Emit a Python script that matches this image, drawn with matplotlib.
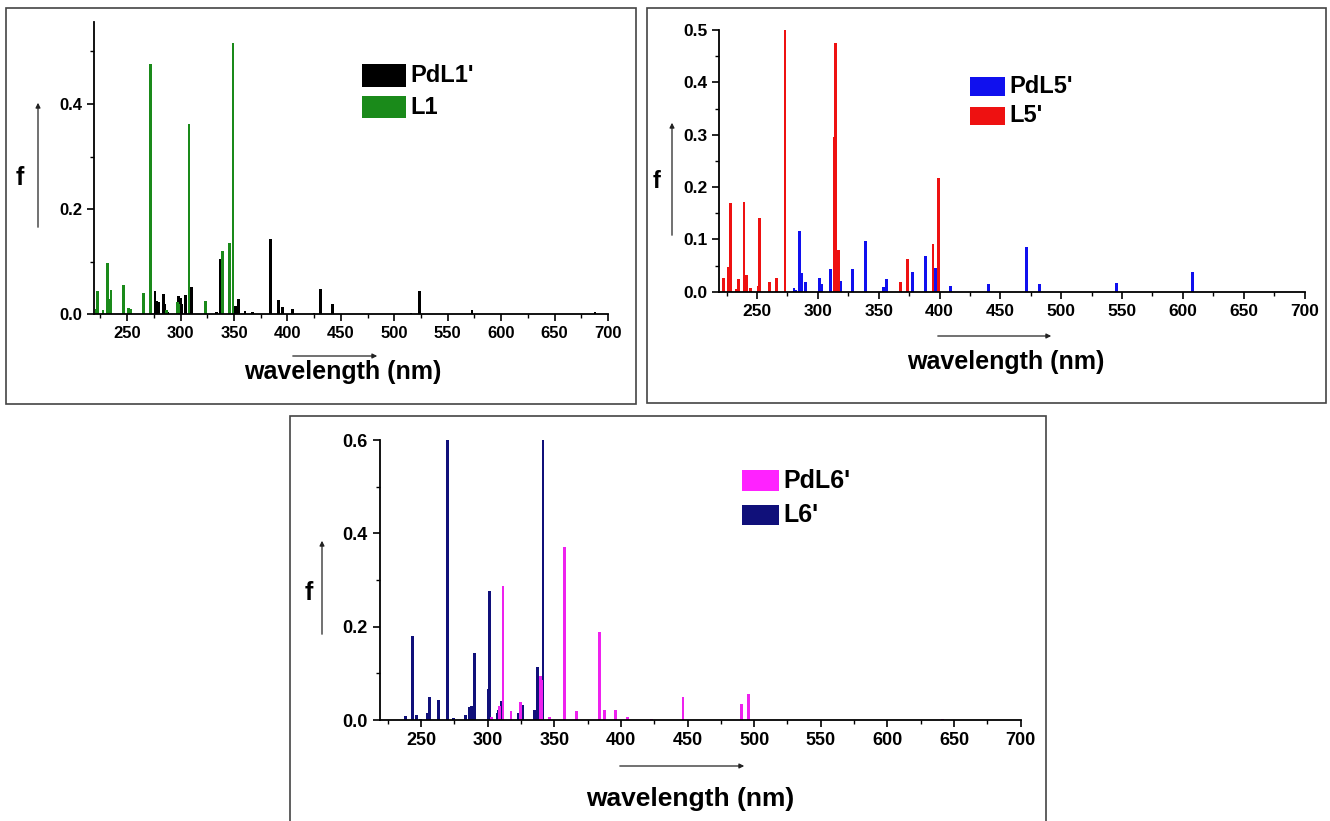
import matplotlib
matplotlib.use("Agg")
import matplotlib.pyplot as plt
from matplotlib.patches import Rectangle, FancyArrowPatch
from matplotlib.ticker import MultipleLocator

plt.rcParams['font.family'] = ['Liberation Sans', 'DejaVu Sans']
plt.rcParams['font.weight'] = 'bold'

# Panel 1: PdL1' and L1 (wavelength nm, oscillator strength f)
pdl1_wl = [276, 277.6, 279, 283.8, 285.3, 288, 298, 299.7, 301, 304.7, 310.3,
           333.7, 337.7, 351.5, 354, 360.3, 367.5, 383.9, 391.4, 395.2, 404.6,
           424.9, 431.1, 442, 515.6, 523.4, 572.8, 687.9]
pdl1_f = [0.044, 0.025, 0.024, 0.038, 0.02, 0.004, 0.034, 0.031, 0.02, 0.0375, 0.0525,
          0.005, 0.105, 0.015, 0.03, 0.007, 0.004, 0.144, 0.027, 0.014, 0.01,
          0.003, 0.048, 0.019, 0.002, 0.044, 0.0075, 0.0045]
l1_wl = [221, 222.5, 227.5, 231.3, 233, 235, 246.9, 251, 253, 265, 272.2, 286.6,
         296.8, 298.6, 308, 323.4, 339.6, 345.5, 349]
l1_f = [0.011, 0.044, 0.009, 0.0975, 0.03, 0.046, 0.056, 0.0125, 0.01, 0.041, 0.477, 0.009,
        0.024, 0.02, 0.362, 0.025, 0.121, 0.136, 0.517]

# Panel 2: PdL5' and L5'
pdl5_wl = [280.4, 282, 284.8, 286.4, 290, 301.2, 302.9, 310.6, 318.3, 328.4, 339.4,
           353.9, 356.7, 377.8, 388.8, 397, 408.8, 440.3, 471.6, 481.8, 545.2, 608.2]
pdl5_f = [0.0064, 0.004, 0.117, 0.036, 0.0185, 0.0255, 0.015, 0.0433, 0.02, 0.044, 0.097,
          0.0096, 0.0236, 0.038, 0.069, 0.0446, 0.0115, 0.015, 0.085, 0.014, 0.017, 0.0376]
l5_wl = [222.7, 226.3, 228.3, 233.3, 235.1, 239.3, 241.2, 244.8, 251, 252.2, 260.4,
         265.8, 273, 313.3, 314.4, 316.6, 367.7, 373.7, 394.6, 399.2]
l5_f = [0.027, 0.0465, 0.169, 0.006, 0.0236, 0.172, 0.032, 0.0076, 0.0115, 0.1415, 0.018,
        0.027, 0.5, 0.295, 0.475, 0.08, 0.019, 0.062, 0.091, 0.217]

# Panel 3: PdL6' and L6'
pdl6_wl = [302.8, 309, 311.5, 317.5, 324.5, 339.5, 340.5, 346.3, 357.8, 366.3, 384,
           387.8, 396, 405, 422.8, 446.6, 490.6, 495.8, 641.3]
pdl6_f = [0.007, 0.03, 0.288, 0.02, 0.039, 0.095, 0.085, 0.006, 0.37, 0.02, 0.188,
          0.021, 0.021, 0.007, 0.002, 0.0486, 0.0336, 0.056, 0.003]
l6_wl = [238.3, 243.7, 246.5, 249.5, 254.5, 256, 263.2, 269.5, 274.5, 283.3, 286, 287.5,
         289.8, 300.3, 301.5, 307, 308.3, 310, 323.3, 325.8, 335.3, 337.5, 341.5]
l6_f = [0.0093, 0.18, 0.01, 0.002, 0.014, 0.0486, 0.043, 0.6, 0.0036, 0.011, 0.0286, 0.031,
        0.143, 0.066, 0.277, 0.014, 0.021, 0.041, 0.014, 0.032, 0.021, 0.113, 0.6]

W, H = 1330, 821
fig = plt.figure(figsize=(W / 100, H / 100), dpi=100)


def fx(x):
    return x / W


def fy(y):
    return 1 - y / H


def frame(l, t, r, b):
    fig.add_artist(Rectangle((fx(l), fy(b)), fx(r - l), (b - t) / H, fill=False,
                             edgecolor='#444444', lw=1.2, transform=fig.transFigure))


def panel(l, t, r, b, ytop, ymajor, yminor, tsize):
    ax = fig.add_axes([fx(l), fy(b), fx(r - l), (b - t) / H])
    ax.set_xlim(219, 700)
    ax.set_ylim(0, ytop)
    ax.spines['top'].set_visible(False)
    ax.spines['right'].set_visible(False)
    ax.spines['left'].set_linewidth(1.3)
    ax.spines['bottom'].set_linewidth(1.3)
    ax.xaxis.set_major_locator(MultipleLocator(50))
    ax.xaxis.set_minor_locator(MultipleLocator(25))
    ax.yaxis.set_major_locator(MultipleLocator(ymajor))
    ax.yaxis.set_minor_locator(MultipleLocator(yminor))
    ax.tick_params(which='major', direction='out', length=5, width=1.2, labelsize=tsize)
    ax.tick_params(which='minor', direction='out', length=3, width=1.0)
    ax.patch.set_alpha(0)
    for lab in ax.get_xticklabels() + ax.get_yticklabels():
        lab.set_fontweight('bold')
    return ax


def arrow(x0, y0, x1, y1):
    fig.add_artist(FancyArrowPatch(
        (fx(x0), fy(y0)), (fx(x1), fy(y1)), transform=fig.transFigure,
        arrowstyle='-|>', mutation_scale=7, lw=0.9, color='#222222'))


def legend_box(x, y, color, label, w, h, size):
    fig.add_artist(Rectangle((fx(x), fy(y + h)), fx(w), h / H, facecolor=color,
                             edgecolor='none', transform=fig.transFigure))
    fig.text(fx(x + w + 4), fy(y + h / 2), label, fontsize=size, fontweight='bold',
             ha='left', va='center')


# frames
frame(6, 8, 636, 404)
frame(647, 8, 1326, 403)
frame(290, 416, 1046, 830)

# panel 1
ax1 = panel(94, 22, 608, 314.3, 0.556, 0.2, 0.1, 12)
ax1.bar(pdl1_wl, pdl1_f, width=2.6, color='black')
ax1.bar(l1_wl, l1_f, width=2.6, color='#1a8a1a')
fig.text(fx(20), fy(178), 'f', fontsize=18, fontweight='bold', ha='center', va='center')
arrow(38, 230, 38, 100)
arrow(290, 356, 380, 356)
fig.text(fx(343), fy(372), 'wavelength (nm)', fontsize=18, fontweight='bold',
         ha='center', va='center')
legend_box(362, 64, 'black', "PdL1'", 44, 23, 17)
legend_box(362, 96, '#1a8a1a', 'L1', 44, 22, 17)

# panel 2
ax2 = panel(719.3, 30.2, 1304.6, 291.7, 0.5, 0.1, 0.05, 12.5)
ax2.bar(pdl5_wl, pdl5_f, width=2.4, color='#1010ee')
ax2.bar(l5_wl, l5_f, width=2.4, color='#ee1111')
fig.text(fx(657), fy(182), 'f', fontsize=17, fontweight='bold', ha='center', va='center')
arrow(672, 238, 672, 120)
arrow(935, 336, 1054, 336)
fig.text(fx(1006), fy(362), 'wavelength (nm)', fontsize=18, fontweight='bold',
         ha='center', va='center')
legend_box(970, 77, '#1010ee', "PdL5'", 35, 19, 17)
legend_box(970, 107, '#ee1111', "L5'", 35, 18, 17)

# panel 3
ax3 = panel(379.8, 440, 1020.6, 720, 0.6, 0.2, 0.1, 13)
ax3.bar(l6_wl, l6_f, width=2.2, color='#10107a')
ax3.bar(pdl6_wl, pdl6_f, width=2.2, color='#ee22ee')
fig.text(fx(309), fy(593), 'f', fontsize=18, fontweight='bold', ha='center', va='center')
arrow(322, 637, 322, 538)
arrow(617, 766, 747, 766)
fig.text(fx(690), fy(799), 'wavelength (nm)', fontsize=19, fontweight='bold',
         ha='center', va='center')
legend_box(742, 470, '#ff22ff', "PdL6'", 37, 21, 18)
legend_box(742, 505, '#10107a', "L6'", 37, 20, 18)

fig.savefig('out.png', dpi=100)
